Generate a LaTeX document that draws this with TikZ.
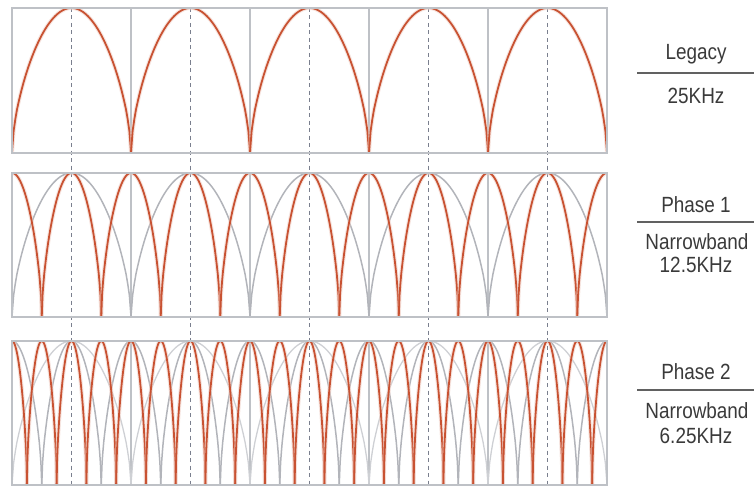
\documentclass[tikz,border=0pt]{standalone}
\usepackage{fontspec}
\setmainfont{Liberation Sans}[FakeStretch=0.86]

\definecolor{archred}{RGB}{200,82,50}
\definecolor{archgray}{RGB}{178,180,186}
\definecolor{archpale}{RGB}{206,208,212}
\definecolor{gridgray}{RGB}{190,193,198}
\definecolor{dashblue}{RGB}{122,127,142}
\definecolor{labelgray}{RGB}{58,58,58}

% one row of channel arches: top, height, width, first centre, last index, style
\newcommand\archrow[6]{%
  \foreach \k in {0,...,#5}{
    \draw[#6] plot[domain=0:180, samples=73]
      ({#4 + \k*#3 - #3/2 + #3/180*\x}, {#1 + #2 - #2*pow(abs(sin(\x))+0.0001,0.6)});
  }}

\begin{document}
\begin{tikzpicture}[
    x=1pt, y=-1pt,
    frame/.style={draw=gridgray, line width=1.5pt},
    gridline/.style={draw=gridgray, line width=1.2pt},
    redarch/.style={draw=archred, line width=1.8pt, line join=round,
        preaction={draw=archred!30, draw opacity=0.5, line width=4pt}},
    grayarch/.style={draw=archgray, line width=1.5pt, line join=round},
    palearch/.style={draw=archpale, line width=1.3pt, line join=round},
    centreline/.style={draw=dashblue, line width=1.5pt, dash pattern=on 4pt off 3.5pt},
    label/.style={font=\fontsize{22}{24}\selectfont, text=labelgray, inner sep=0pt},
    rule/.style={draw=labelgray!80, line width=1.6pt}
]
\useasboundingbox (0,0) rectangle (754,487);

% Grid lines
\foreach \t/\b in {8/153, 173/317, 341/485}{
    \foreach \g in {131,250,369,488}
        \draw[gridline] (\g,\t) -- (\g,\b);
}

% Channel centres
\foreach \c in {71.5,190.5,309.5,428.5,547.5}
    \draw[centreline] (\c,8) -- (\c,485);

% Legacy 25KHz
\begin{scope}
\clip (12,8) rectangle (607,153);
\archrow{8}{145}{119}{71.5}{4}{redarch}
\end{scope}

% Phase 1
\begin{scope}
\clip (12,173) rectangle (607,317);
\archrow{173}{144}{119}{71.5}{4}{grayarch}
\archrow{173}{144}{59.5}{12}{10}{redarch}
\end{scope}

% Phase 2
\begin{scope}
\clip (12,341) rectangle (607,485);
\archrow{341}{144}{119}{71.5}{4}{palearch}
\archrow{341}{144}{59.5}{12}{10}{grayarch}
\archrow{341}{144}{29.75}{12}{20}{redarch}
\end{scope}

% Frames
\draw[frame] (12,8) rectangle (607,153);
\draw[frame] (12,173) rectangle (607,317);
\draw[frame] (12,341) rectangle (607,485);

% Labels
\node[label] (legacy) at (696,54) {Legacy};
\coordinate (legacyl) at (637,73);
\coordinate (legacyr) at (754,73);
\draw[rule] (legacyl) -- (legacyr);
\node[label] (legacybw) at (696,96) {25KHz};

\node[label] (phaseone) at (696,205) {Phase 1};
\coordinate (phaseonel) at (637,222);
\coordinate (phaseoner) at (754,222);
\draw[rule] (phaseonel) -- (phaseoner);
\node[label] (phaseonenb) at (697,242) {Narrowband};
\node[label] (phaseonebw) at (696,265) {12.5KHz};

\node[label] (phasetwo) at (696,372) {Phase 2};
\coordinate (phasetwol) at (637,390);
\coordinate (phasetwor) at (754,390);
\draw[rule] (phasetwol) -- (phasetwor);
\node[label] (phasetwonb) at (697,411) {Narrowband};
\node[label] (phasetwobw) at (696,436) {6.25KHz};

\end{tikzpicture}
\end{document}
